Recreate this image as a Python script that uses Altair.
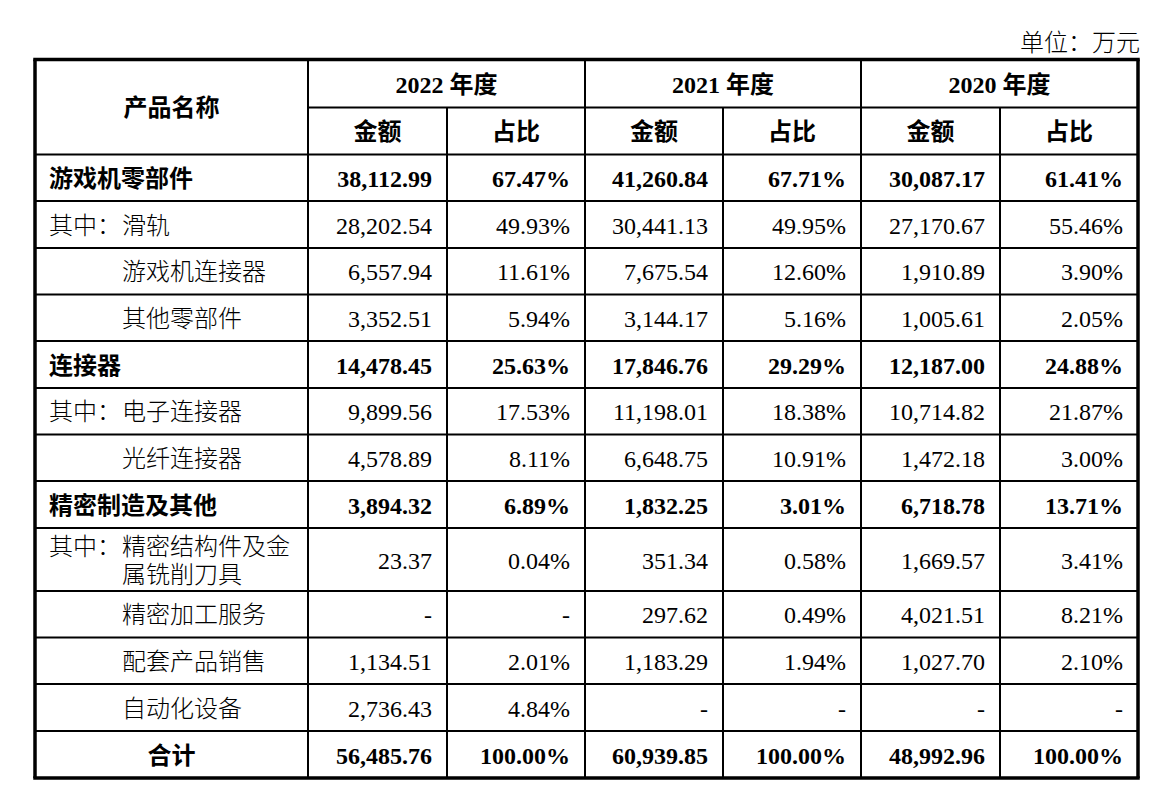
import altair as alt
import pandas as pd

# ---------------- data ----------------
unit_label = "单位：万元"
name_header = "产品名称"
years = ["2022 年度", "2021 年度", "2020 年度"]
sub_headers = ["金额", "占比"]

row_prefix = ["", "其中：", "", "", "", "其中：", "", "", "其中：", "", "", "", ""]
row_body = ["游戏机零部件", "滑轨", "游戏机连接器", "其他零部件", "连接器", "电子连接器",
            "光纤连接器", "精密制造及其他", "精密结构件及金\n属铣削刀具", "精密加工服务",
            "配套产品销售", "自动化设备", "合计"]
row_kind = ["group", "sub", "sub", "sub", "group", "sub", "sub", "group", "sub", "sub",
            "sub", "sub", "total"]

amt_2022 = [38112.99, 28202.54, 6557.94, 3352.51, 14478.45, 9899.56, 4578.89, 3894.32,
            23.37, None, 1134.51, 2736.43, 56485.76]
pct_2022 = [67.47, 49.93, 11.61, 5.94, 25.63, 17.53, 8.11, 6.89, 0.04, None, 2.01, 4.84, 100.00]
amt_2021 = [41260.84, 30441.13, 7675.54, 3144.17, 17846.76, 11198.01, 6648.75, 1832.25,
            351.34, 297.62, 1183.29, None, 60939.85]
pct_2021 = [67.71, 49.95, 12.60, 5.16, 29.29, 18.38, 10.91, 3.01, 0.58, 0.49, 1.94, None, 100.00]
amt_2020 = [30087.17, 27170.67, 1910.89, 1005.61, 12187.00, 10714.82, 1472.18, 6718.78,
            1669.57, 4021.51, 1027.70, None, 48992.96]
pct_2020 = [61.41, 55.46, 3.90, 2.05, 24.88, 21.87, 3.00, 13.71, 3.41, 8.21, 2.10, None, 100.00]

value_cols = [amt_2022, pct_2022, amt_2021, pct_2021, amt_2020, pct_2020]
value_is_pct = [False, True, False, True, False, True]

# ---------------- layout ----------------
W, H = 1133, 777
OFF = 8
col_edges = [35, 308, 447, 585, 723, 861, 1000, 1138]
hdr_edges = [59.5, 107.5, 154.5]
row_edges = [154.5, 201, 248, 294.5, 341, 388, 434.5, 481, 528, 591, 637.5, 684, 731, 778]
PAD = 15
LABEL_X = 49
INDENT_X = 122
LINE_H = 28

def fmt(v, pct):
    if v is None:
        return "-"
    return f"{v:.2f}%" if pct else f"{v:,.2f}"

cells = []
def add(x, y, t, al, wt):
    cells.append(dict(x=x, y=y, t=t, al=al, wt=wt))

add(1140, 42, unit_label, "right", "normal")
add((col_edges[0] + col_edges[1]) / 2, (hdr_edges[0] + hdr_edges[2]) / 2, name_header, "center", "bold")
for i, yl in enumerate(years):
    cx = (col_edges[1 + 2 * i] + col_edges[3 + 2 * i]) / 2
    add(cx, (hdr_edges[0] + hdr_edges[1]) / 2, yl, "center", "bold")
    for j, sh in enumerate(sub_headers):
        c = 1 + 2 * i + j
        add((col_edges[c] + col_edges[c + 1]) / 2, (hdr_edges[1] + hdr_edges[2]) / 2, sh, "center", "bold")

for r in range(len(row_body)):
    cy = (row_edges[r] + row_edges[r + 1]) / 2
    kind = row_kind[r]
    w = "bold" if kind in ("group", "total") else "normal"
    lines = row_body[r].split("\n")
    n = len(lines)
    ys = [cy + (k - (n - 1) / 2) * LINE_H for k in range(n)]
    if kind == "total":
        add((col_edges[0] + col_edges[1]) / 2, cy, lines[0], "center", w)
    elif kind == "group":
        add(LABEL_X, cy, lines[0], "left", w)
    else:
        if row_prefix[r]:
            add(LABEL_X, ys[0], row_prefix[r], "left", w)
        for k, ln in enumerate(lines):
            add(INDENT_X, ys[k], ln, "left", w)
    for c, (vals, pct) in enumerate(zip(value_cols, value_is_pct)):
        add(col_edges[c + 2] - PAD, cy, fmt(vals[r], pct), "right", w)

cells_df = pd.DataFrame(cells)

segs = []
def seg(x, x2, y, y2, w):
    segs.append(dict(x=x, x2=x2, y=y, y2=y2, w=w))

TH = 3.5
L, R = col_edges[0], col_edges[-1]
T, B = hdr_edges[0], row_edges[-1]
seg(L - TH / 2, R + TH / 2, T, T, TH)
seg(L - TH / 2, R + TH / 2, B, B, TH)
seg(L, L, T, B, TH)
seg(R, R, T, B, TH)
for x in (col_edges[1], col_edges[3], col_edges[5]):
    seg(x, x, T, B, 2)
for x in (col_edges[2], col_edges[4], col_edges[6]):
    seg(x, x, hdr_edges[1], B, 2)
seg(col_edges[1], R, hdr_edges[1], hdr_edges[1], 2)
for y in row_edges[:-1]:
    seg(L, R, y, y, 2)
segs_df = pd.DataFrame(segs)

xs = alt.Scale(domain=[OFF, OFF + W], nice=False, zero=False)
ys_ = alt.Scale(domain=[OFF, OFF + H], nice=False, zero=False, reverse=True)

rules = alt.Chart(segs_df).mark_rule(color="#000000", strokeCap="butt").encode(
    x=alt.X("x:Q", scale=xs, axis=None),
    x2="x2:Q",
    y=alt.Y("y:Q", scale=ys_, axis=None),
    y2="y2:Q",
    strokeWidth=alt.StrokeWidth("w:Q", scale=None, legend=None),
)

FONT = "Liberation Serif, Noto Sans CJK SC"
layers = [rules]
for al in ("left", "center", "right"):
    for wt in ("normal", "bold"):
        sub = cells_df[(cells_df["al"] == al) & (cells_df["wt"] == wt)]
        if len(sub) == 0:
            continue
        layers.append(
            alt.Chart(sub).mark_text(
                align=al, baseline="middle", font=FONT, fontSize=24, dy=2,
                fontWeight=(300 if wt == "normal" else "bold"), color="#000000",
            ).encode(
                x=alt.X("x:Q", scale=xs, axis=None),
                y=alt.Y("y:Q", scale=ys_, axis=None),
                text="t:N",
            )
        )

chart = alt.layer(*layers).properties(
    width=W, height=H, padding=0, autosize=alt.AutoSizeParams(type="none"),
).configure(background="#ffffff").configure_view(stroke=None)

chart.save("out.html", embed_options={"renderer": "svg", "actions": False})
